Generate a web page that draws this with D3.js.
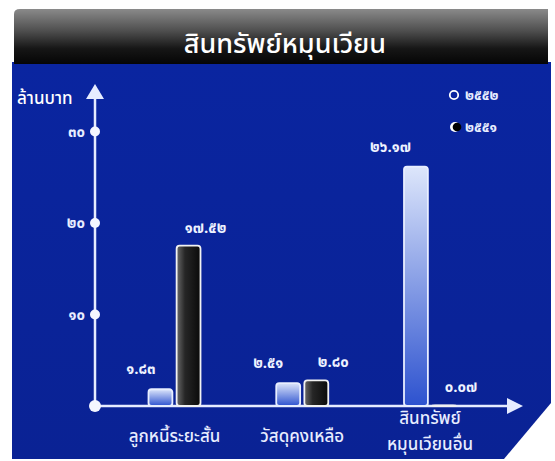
<!DOCTYPE html>
<html><head><meta charset="utf-8">
<script src="https://cdn.jsdelivr.net/npm/d3@7"></script>
<style>body{margin:0;background:#fff}svg{display:block}text{font-family:"Noto Sans Thai","Noto Sans","DejaVu Sans",sans-serif}</style>
</head><body><svg id="c" width="555" height="461"></svg>
<script>
const title = "สินทรัพย์หมุนเวียน";
const yAxisTitle = "ล้านบาท";
const categories = ["ลูกหนี้ระยะสั้น", "วัสดุคงเหลือ", "สินทรัพย์\nหมุนเวียนอื่น"];
const seriesNames = ["๒๕๕๒", "๒๕๕๑"];
const values2552 = [1.83, 2.51, 26.17];
const values2551 = [17.52, 2.80, 0.07];
const yTicks = [10, 20, 30];

const thai = s => String(s).replace(/[0-9]/g, d => "๐๑๒๓๔๕๖๗๘๙"[+d]);
const svg = d3.select("#c");
const defs = svg.append("defs");

const gt = defs.append("linearGradient").attr("id","gTitle").attr("x1",0).attr("y1",0).attr("x2",0).attr("y2",1);
gt.append("stop").attr("offset","0%").attr("stop-color","#8a8a8a");
gt.append("stop").attr("offset","40%").attr("stop-color","#4e4e4e");
gt.append("stop").attr("offset","72%").attr("stop-color","#161616");
gt.append("stop").attr("offset","100%").attr("stop-color","#050505");
const gp = defs.append("linearGradient").attr("id","gPanel").attr("x1",0).attr("y1",0).attr("x2",0).attr("y2",1);
gp.append("stop").attr("offset","0%").attr("stop-color","#0a25a0");
gp.append("stop").attr("offset","100%").attr("stop-color","#0a2294");
const gA = defs.append("linearGradient").attr("id","gA").attr("x1",0).attr("y1",0).attr("x2",0).attr("y2",1);
gA.append("stop").attr("offset","0%").attr("stop-color","#dde6fb");
gA.append("stop").attr("offset","100%").attr("stop-color","#2d52cf");
const gB = defs.append("linearGradient").attr("id","gB").attr("x1",0).attr("y1",0).attr("x2",1).attr("y2",0);
gB.append("stop").attr("offset","0%").attr("stop-color","#6a6a6a");
gB.append("stop").attr("offset","35%").attr("stop-color","#262626");
gB.append("stop").attr("offset","100%").attr("stop-color","#0a0a0a");

svg.append("path").attr("d","M12,62H551V403L504,459H12Z").attr("fill","url(#gPanel)");
svg.append("path").attr("d","M14,14Q14,9 20,9H548V64H14Z").attr("fill","url(#gTitle)");
svg.append("text").attr("x",285).attr("y",53).attr("text-anchor","middle")
  .attr("fill","#fff").attr("font-size",27).attr("font-weight",500).text(title);

const y = d3.scaleLinear().domain([0,30]).range([406,131.5]);
const x0 = d3.scalePoint().domain(d3.range(categories.length)).range([174.5,430]);
const x1 = d3.scaleBand().domain([0,1]).range([-26,26]).paddingInner(0.15);
const axisColor = "#e6ecff";

svg.append("line").attr("x1",95).attr("y1",y(0)).attr("x2",95).attr("y2",97).attr("stroke",axisColor).attr("stroke-width",2.5);
svg.append("path").attr("d","M95,84L104,99L86,99Z").attr("fill",axisColor);
svg.append("line").attr("x1",95).attr("y1",y(0)).attr("x2",508).attr("y2",y(0)).attr("stroke",axisColor).attr("stroke-width",2.5);
svg.append("path").attr("d",`M523,${y(0)}L507,${y(0)-8}L507,${y(0)+8}Z`).attr("fill",axisColor);

const ya = svg.append("g").attr("transform","translate(85,0)")
  .call(d3.axisLeft(y).tickValues(yTicks).tickSize(0).tickPadding(0).tickFormat(d => thai(d)));
ya.select(".domain").remove();
ya.selectAll("text").attr("fill","#e8edff").attr("font-size",15).attr("font-weight","bold")
  .style("font-family",'"Noto Sans Thai","Noto Sans",sans-serif');
svg.selectAll(".tdot").data(yTicks).join("circle").attr("cx",95).attr("cy",d=>y(d)).attr("r",5).attr("fill","#f4f6ff");
svg.append("circle").attr("cx",95).attr("cy",y(0)).attr("r",6).attr("fill","#f4f6ff");

svg.append("text").attr("x",17).attr("y",104).attr("fill","#fff").attr("font-size",17).attr("font-weight",500).text(yAxisTitle);

const groups = svg.selectAll(".grp").data(categories).join("g").attr("transform",(d,i)=>`translate(${x0(i)},0)`);
const data = categories.map((c,i)=>[values2552[i], values2551[i]]);
groups.selectAll("rect").data((d,i)=>data[i]).join("rect")
  .attr("x",(d,j)=>x1(j)).attr("width",x1.bandwidth())
  .attr("y",d=>y(d)).attr("height",d=>y(0)-y(d))
  .attr("rx",3)
  .attr("fill",(d,j)=>j===0?"url(#gA)":"url(#gB)")
  .attr("stroke",(d,j)=>j===0?"#e8eeff":"#f2f2f2").attr("stroke-width",1.8);

groups.selectAll(".vl").data((d,i)=>data[i]).join("text")
  .attr("x",(d,j)=>j===0 ? x1(j)+7 : x1(j)+x1.bandwidth()/2+17)
  .attr("y",(d,j)=>y(d)-(j===0?15:13))
  .attr("text-anchor",(d,j)=>j===0?"end":"middle")
  .attr("fill","#eef2ff").attr("font-size",15).attr("font-weight","bold").text(d=>thai(d.toFixed(2)));

groups.each(function(c){
  const lines = c.split("\n");
  lines.forEach((l,k)=>d3.select(this).append("text").attr("text-anchor","middle").attr("fill","#e8edff")
    .attr("font-size",17).attr("font-weight",500)
    .attr("x",0).attr("y",(lines.length===1?442:424)+k*26).text(l));
});

svg.append("circle").attr("cx",454).attr("cy",95).attr("r",4.2).attr("fill","none").attr("stroke","#fff").attr("stroke-width",1.8);
svg.append("circle").attr("cx",455).attr("cy",127).attr("r",5).attr("fill","#fff");
svg.append("circle").attr("cx",457).attr("cy",127).attr("r",4.3).attr("fill","#000");
seriesNames.forEach((s,i)=>svg.append("text").attr("x",465).attr("y",100+i*32).attr("fill","#e8edff").attr("font-size",14).attr("font-weight","bold").text(s));
</script></body></html>
